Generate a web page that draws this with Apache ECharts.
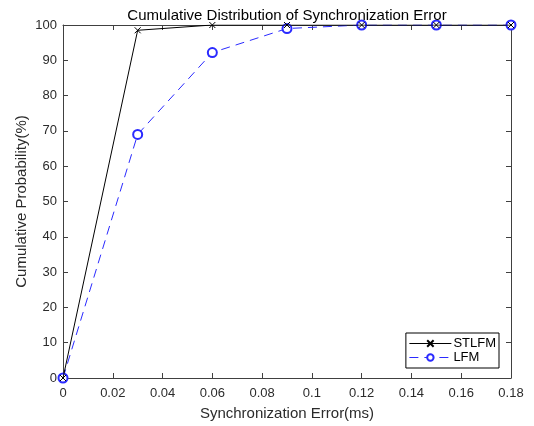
<!DOCTYPE html>
<html>
<head>
<meta charset="utf-8">
<script src="https://cdn.jsdelivr.net/npm/echarts@6/dist/echarts.min.js"></script>
<style>
  html, body { margin: 0; padding: 0; background: #fff; }
  #chart { width: 534px; height: 426px; }
</style>
</head>
<body>
<div id="chart"></div>
<script>
// synchronization error (ms)
const errors = [0, 0.03, 0.06, 0.09, 0.12, 0.15, 0.18];
const stlfm = [0, 98.5, 100, 100, 100, 100, 100];
const lfm = [0, 69, 92.2, 99, 100, 100, 100];

const FONT = 'Liberation Sans, Arial, sans-serif';
const AXIS_COLOR = '#404040';
const CROSS = 'path://M0,0L10,10M10,0L0,10';

const pairs = (ys) => errors.map((x, i) => [x, ys[i]]);

const chart = echarts.init(document.getElementById('chart'));

function axis(extra) {
  return Object.assign({
    axisLine: { onZero: false, lineStyle: { color: AXIS_COLOR, width: 1 } },
    axisTick: { show: true, inside: true, length: 5, lineStyle: { color: AXIS_COLOR } },
    splitLine: { show: false },
    axisLabel: { show: false }
  }, extra);
}

const tickLabel = { color: '#2b2b2b', fontFamily: FONT, fontSize: 13 };
const nameText = { fontFamily: FONT, fontSize: 15, color: '#2b2b2b' };

chart.setOption({
  animation: false,
  title: {
    text: 'Cumulative Distribution of Synchronization Error',
    left: 282, top: 3, textAlign: 'center',
    textStyle: { fontFamily: FONT, fontSize: 15, fontWeight: 'normal', color: '#000' }
  },
  grid: { left: 63, right: 23, top: 25, bottom: 48 },
  legend: {
    right: 35, bottom: 58,
    orient: 'vertical',
    itemGap: 1,
    itemWidth: 42,
    itemHeight: 8,
    padding: [4, 3, 4, 3],
    borderColor: '#000', borderWidth: 1,
    backgroundColor: '#fff',
    lineStyle: { width: 1 },
    textStyle: { fontFamily: FONT, fontSize: 13, color: '#000', padding: [0, 0, 0, -3] },
    data: ['STLFM', 'LFM']
  },
  xAxis: [
    axis({
      type: 'value', min: 0, max: 0.18, interval: 0.02, position: 'bottom',
      name: 'Synchronization Error(ms)', nameLocation: 'middle', nameGap: 28,
      nameMoveOverlap: false,
      nameTextStyle: nameText,
      axisLabel: Object.assign({ margin: 9 }, tickLabel)
    }),
    axis({ type: 'value', min: 0, max: 0.18, interval: 0.02, position: 'top' })
  ],
  yAxis: [
    axis({
      type: 'value', min: 0, max: 100, interval: 10, position: 'left',
      name: 'Cumulative Probability(%)', nameLocation: 'middle', nameGap: 34,
      nameMoveOverlap: false,
      nameTextStyle: nameText,
      axisLabel: Object.assign({ margin: 6 }, tickLabel)
    }),
    axis({ type: 'value', min: 0, max: 100, interval: 10, position: 'right' })
  ],
  series: [
    {
      name: 'STLFM', type: 'line',
      data: pairs(stlfm),
      symbol: CROSS, symbolSize: 6,
      lineStyle: { color: '#000', width: 1 },
      itemStyle: { color: '#000', borderColor: '#000', borderWidth: 1 },
      z: 3
    },
    {
      name: 'LFM', type: 'line',
      data: pairs(lfm),
      symbol: 'emptyCircle', symbolSize: 9,
      lineStyle: { color: '#2a2aff', width: 1, type: [9, 6] },
      itemStyle: { color: '#2a2aff', borderColor: '#2a2aff', borderWidth: 1 },
      z: 2
    }
  ]
});
</script>
</body>
</html>
